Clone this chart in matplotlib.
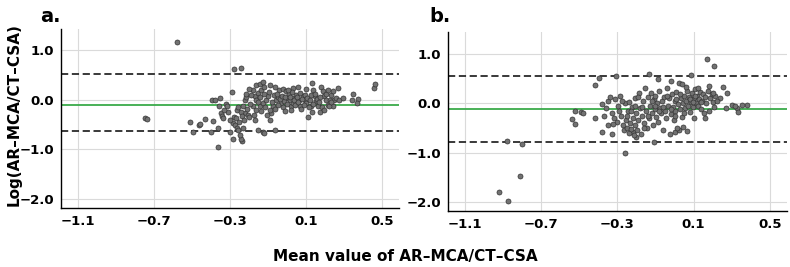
import matplotlib
matplotlib.use("Agg")
import matplotlib.pyplot as plt

# panel a: mean value (x) and log difference (y)
a_mean = [-0.577, -0.745, -0.738, -0.279, -0.240, -0.363, 0.461, 0.464, 0.347, 0.344,
          0.374, 0.371, -0.235, -0.240, -0.284, -0.510, -0.495, -0.465, -0.455, -0.433,
          -0.400, -0.390, -0.392, -0.380, -0.350, -0.360, -0.355, -0.345, -0.340, -0.337,
          -0.320, -0.314, -0.300, -0.290, -0.285, -0.280, -0.270, -0.275, -0.263, -0.260,
          -0.245, -0.255, -0.258, -0.230, -0.220, -0.214, -0.220, -0.205, -0.200, -0.230,
          -0.180, -0.160, -0.144, -0.126, -0.170, -0.153, -0.135, -0.118, -0.180, -0.160,
          -0.144, -0.126, -0.109, -0.100, -0.153, -0.126, -0.118, -0.065, -0.090, -0.082,
          -0.087, -0.073, -0.056, -0.047, -0.039, -0.021, -0.004, -0.030, -0.014, 0.005,
          0.014, 0.023, 0.032, 0.040, 0.050, 0.032, 0.058, 0.063, 0.067, 0.084,
          0.093, 0.100, 0.110, 0.128, 0.133, 0.137, 0.146, 0.154, 0.163, 0.172,
          0.180, 0.190, 0.198, 0.207, 0.216, 0.225, 0.233, 0.242, 0.250, 0.260,
          0.268, 0.277, 0.242, 0.221, 0.295, -0.240, -0.235, -0.225, -0.210, -0.195,
          -0.190, -0.175, -0.170, -0.165, -0.150, -0.140, -0.135, -0.120, -0.115, -0.105,
          -0.095, -0.080, -0.070, -0.060, -0.050, -0.045, -0.035, -0.025, -0.020, -0.010,
          0.000, 0.010, 0.015, 0.020, 0.025, 0.035, 0.045, 0.055, 0.060, 0.070,
          0.075, 0.080, 0.090, 0.095, 0.105, 0.115, 0.120, 0.125, 0.140, 0.150,
          0.160, 0.170, 0.185, 0.195, 0.205, 0.215, 0.230, 0.175, -0.010, 0.005,
          -0.060, -0.090, -0.200, -0.215, -0.310, -0.300, -0.250, -0.330, 0.100, 0.130]
a_diff = [1.165, -0.37, -0.38, 0.61, 0.63, -0.96, 0.24, 0.32, 0.12, 0.00,
          0.01, -0.07, -0.84, -0.80, -0.80, -0.45, -0.66, -0.50, -0.48, -0.39,
          -0.66, -0.42, 0.00, 0.00, 0.03, -0.57, -0.13, -0.27, -0.32, -0.37,
          -0.08, -0.12, -0.65, 0.16, -0.47, -0.34, -0.37, -0.50, -0.57, -0.20,
          -0.71, -0.62, -0.15, -0.13, 0.00, 0.05, -0.27, -0.30, -0.34, -0.57,
          0.20, 0.30, 0.32, 0.35, 0.07, 0.13, 0.20, 0.26, -0.13, -0.20,
          -0.13, -0.07, 0.00, 0.07, -0.61, -0.65, -0.67, -0.62, -0.40, -0.27,
          -0.20, -0.13, 0.00, 0.05, 0.20, 0.22, 0.17, -0.07, -0.03, 0.03,
          0.00, -0.13, -0.07, 0.03, 0.10, 0.24, 0.26, 0.00, -0.13, 0.07,
          0.00, -0.07, -0.34, -0.13, 0.34, 0.20, 0.07, -0.03, -0.13, -0.24,
          0.26, 0.17, 0.07, 0.00, -0.10, 0.00, 0.10, 0.17, 0.00, 0.03,
          0.24, 0.00, -0.13, -0.12, 0.03, -0.25, -0.33, -0.40, -0.18, -0.08,
          0.10, -0.30, -0.40, 0.00, -0.05, 0.05, -0.22, 0.12, -0.15, -0.30,
          0.15, -0.05, 0.10, -0.18, 0.12, -0.10, 0.02, 0.08, -0.15, 0.05,
          -0.08, 0.12, 0.06, -0.20, 0.15, 0.00, -0.10, 0.05, -0.05, 0.14,
          -0.18, 0.02, -0.10, 0.10, 0.04, -0.15, 0.00, 0.10, -0.08, 0.12,
          0.02, -0.05, -0.15, -0.20, 0.12, 0.20, -0.05, 0.05, -0.22, 0.20,
          0.25, 0.30, 0.22, 0.12, -0.25, -0.40, -0.45, -0.20, 0.22, -0.25]

# panel b
b_mean = [-0.921, -0.874, -0.812, -0.879, -0.800, 0.170, 0.207, -0.260, -0.540, -0.520,
          -0.520, -0.490, -0.480, -0.420, -0.395, -0.420, -0.307, -0.135, -0.086, 0.088,
          -0.109, 0.382, 0.355, 0.330, 0.333, 0.254, 0.275, 0.237, 0.300, 0.318,
          -0.380, -0.330, -0.350, -0.200, -0.220, 0.000, 0.026, 0.067, 0.044, -0.360,
          -0.350, -0.340, -0.330, -0.320, -0.310, -0.300, -0.295, -0.285, -0.280, -0.270,
          -0.265, -0.260, -0.255, -0.250, -0.245, -0.240, -0.235, -0.230, -0.225, -0.220,
          -0.215, -0.210, -0.205, -0.200, -0.195, -0.190, -0.185, -0.180, -0.175, -0.170,
          -0.165, -0.160, -0.155, -0.150, -0.145, -0.140, -0.135, -0.130, -0.125, -0.120,
          -0.115, -0.110, -0.105, -0.100, -0.095, -0.090, -0.085, -0.080, -0.075, -0.070,
          -0.065, -0.060, -0.055, -0.050, -0.045, -0.040, -0.035, -0.030, -0.025, -0.020,
          -0.015, -0.010, -0.005, 0.000, 0.005, 0.010, 0.015, 0.020, 0.025, 0.030,
          0.035, 0.040, 0.045, 0.050, 0.055, 0.060, 0.065, 0.070, 0.075, 0.080,
          0.085, 0.090, 0.095, 0.100, 0.105, 0.110, 0.115, 0.120, 0.125, 0.130,
          0.135, 0.140, 0.145, 0.150, 0.155, 0.160, 0.165, 0.175, 0.180, 0.185,
          0.195, 0.200, 0.210, 0.215, 0.225, -0.380, -0.370, -0.325, -0.290, -0.275,
          -0.250, -0.240, -0.230, -0.210, -0.190, -0.170, -0.160, -0.140, -0.120, -0.100,
          -0.080, -0.060, -0.040, -0.020, 0.000, 0.010, 0.030, 0.050, 0.060, 0.080,
          0.095, 0.110, 0.125, 0.140, 0.160, 0.180, 0.200, 0.270, -0.020, 0.040]
b_diff = [-1.79, -1.97, -1.47, -0.77, -0.82, 0.89, 0.75, -1.01, -0.32, -0.43,
          -0.15, -0.17, -0.19, 0.36, 0.50, -0.29, 0.56, 0.59, 0.48, 0.57,
          -0.79, -0.04, -0.04, -0.09, -0.17, 0.33, 0.21, 0.10, -0.04, -0.06,
          -0.59, -0.63, -0.45, -0.69, -0.59, -0.59, -0.55, -0.57, -0.49, -0.10,
          0.05, 0.12, -0.20, -0.30, 0.08, -0.38, -0.05, 0.15, -0.25, -0.45,
          -0.55, 0.00, -0.35, -0.50, -0.15, -0.60, -0.40, -0.52, -0.08, -0.30,
          -0.65, -0.45, 0.10, -0.20, -0.55, -0.35, 0.20, -0.10, -0.62, -0.25,
          0.05, -0.40, 0.30, -0.15, -0.50, 0.12, -0.30, -0.05, 0.20, -0.20,
          -0.45, 0.08, -0.12, 0.15, -0.28, 0.00, -0.38, 0.25, -0.10, -0.20,
          0.05, -0.55, 0.12, -0.15, -0.30, 0.30, -0.05, 0.10, -0.62, -0.22,
          0.18, -0.08, -0.35, 0.05, -0.15, 0.22, -0.50, -0.02, 0.40, -0.12,
          0.10, -0.28, 0.00, 0.15, -0.10, 0.05, 0.25, -0.05, 0.12, -0.18,
          0.02, 0.20, -0.08, 0.10, -0.30, 0.28, 0.00, 0.15, -0.05, 0.08,
          0.22, -0.12, 0.05, 0.18, -0.20, 0.12, 0.00, 0.25, -0.15, 0.10,
          0.18, 0.02, -0.08, 0.15, 0.05, -0.02, -0.25, -0.42, -0.15, 0.05,
          -0.25, 0.02, -0.15, -0.05, 0.12, -0.08, -0.50, -0.25, 0.05, -0.05,
          -0.15, -0.08, 0.15, -0.12, -0.25, 0.08, 0.18, -0.20, 0.32, 0.08,
          0.02, 0.14, 0.30, 0.02, -0.30, 0.35, 0.20, -0.10, 0.45, 0.38]

# bias line and limits of agreement
a_lines = {"mean": -0.115, "upper": 0.51, "lower": -0.64}
b_lines = {"mean": -0.12, "upper": 0.56, "lower": -0.79}

xticks = [-1.1, -0.7, -0.3, 0.1, 0.5]
yticks = [1.0, 0.0, -1.0, -2.0]

fig = plt.figure(figsize=(7.9, 2.67), dpi=100)
ax_a = fig.add_axes([0.077, 0.221, 0.428, 0.670])
ax_b = fig.add_axes([0.567, 0.210, 0.429, 0.670])


def draw(ax, x, y, lines, ylim):
    ax.grid(True, color="#dadada", lw=0.8)
    ax.set_axisbelow(True)
    ax.axhline(lines["upper"], color="#2a2a2a", lw=1.3, ls=(0, (4, 2)))
    ax.axhline(lines["lower"], color="#2a2a2a", lw=1.3, ls=(0, (4, 2)))
    ax.axhline(lines["mean"], color="#3aaa4a", lw=1.3)
    ax.scatter(x, y, s=13, facecolor="#727272", edgecolor="#333333", lw=0.5, zorder=3)
    ax.set_xlim(-1.19, 0.59)
    ax.set_ylim(*ylim)
    ax.set_xticks(xticks)
    ax.set_yticks(yticks)
    ax.set_xticklabels(["\u22121.1", "\u22120.7", "\u22120.3", "0.1", "0.5"])
    ax.set_yticklabels(["1.0", "0.0", "\u22121.0", "\u22122.0"])
    ax.tick_params(length=0, pad=5, labelsize=9.5)
    for lab in ax.get_xticklabels() + ax.get_yticklabels():
        lab.set_fontweight("bold")
    ax.spines["top"].set_visible(False)
    ax.spines["right"].set_visible(False)
    ax.spines["left"].set_linewidth(1.0)
    ax.spines["bottom"].set_linewidth(1.0)


draw(ax_a, a_mean, a_diff, a_lines, (-2.18, 1.42))
draw(ax_b, b_mean, b_diff, b_lines, (-2.18, 1.44))

fig.text(0.051, 0.94, "a.", fontsize=14, fontweight="bold", ha="left", va="center")
fig.text(0.544, 0.94, "b.", fontsize=14, fontweight="bold", ha="left", va="center")
fig.text(0.018, 0.57, "Log(AR\u2013MCA/CT\u2013CSA)", rotation=90, fontsize=11,
         fontweight="bold", ha="center", va="center")
fig.text(0.513, 0.041, "Mean value of AR\u2013MCA/CT\u2013CSA", fontsize=11,
         fontweight="bold", ha="center", va="center")

fig.savefig("out.png", dpi=100)
